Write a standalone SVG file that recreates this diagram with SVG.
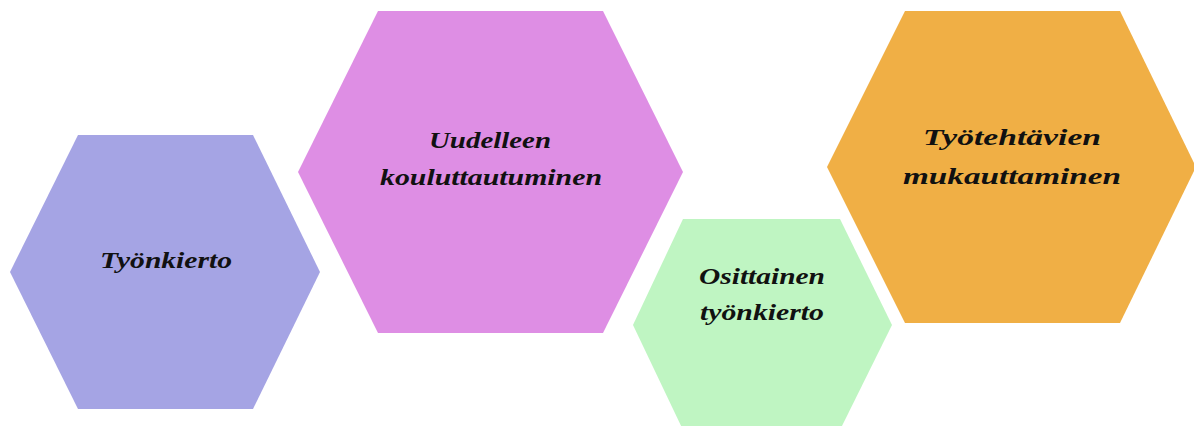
<svg xmlns="http://www.w3.org/2000/svg" width="1194" height="426" viewBox="0 0 1194 426">
  <style>
    .lbl { font-family: "Liberation Serif", "DejaVu Serif", serif; font-style: italic; font-weight: bold; font-size: 24px; fill: #111111; text-anchor: middle; }
  </style>
  <rect width="1194" height="426" fill="#ffffff"/>
  <g id="node-tyonkierto">
    <polygon points="78,135 253,135 320,272 253,409 78,409 10,272" fill="#A5A4E4"/>
    <text class="lbl" x="166" y="268" textLength="132" lengthAdjust="spacingAndGlyphs">Työnkierto</text>
  </g>
  <g id="node-uudelleenkoulutus">
    <polygon points="378,11 603,11 683,172 603,333 378,333 298,172" fill="#DE8EE4"/>
    <text class="lbl" x="490" y="148" textLength="122" lengthAdjust="spacingAndGlyphs">Uudelleen</text>
    <text class="lbl" x="491" y="185" textLength="222" lengthAdjust="spacingAndGlyphs">kouluttautuminen</text>
  </g>
  <g id="node-osittainen">
    <polygon points="683,219 840,219 892,325 840,430 683,430 633,325" fill="#BFF5C2"/>
    <text class="lbl" x="762" y="284" textLength="126" lengthAdjust="spacingAndGlyphs">Osittainen</text>
    <text class="lbl" x="762" y="320" textLength="124" lengthAdjust="spacingAndGlyphs">työnkierto</text>
  </g>
  <g id="node-tyotehtavat">
    <polygon points="905,11 1120,11 1196,167 1120,323 905,323 827,167" fill="#F0AF45"/>
    <text class="lbl" x="1012" y="145" textLength="178" lengthAdjust="spacingAndGlyphs">Työtehtävien</text>
    <text class="lbl" x="1012" y="184" textLength="218" lengthAdjust="spacingAndGlyphs">mukauttaminen</text>
  </g>
  <g id="connectors"/>
</svg>
